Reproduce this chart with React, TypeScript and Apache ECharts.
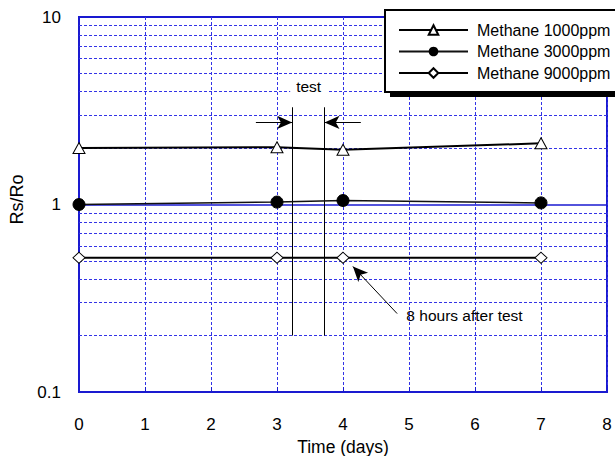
import React, { useEffect, useRef } from "react";
import * as echarts from "echarts";

const days = [0, 3, 4, 7];
const methane1000 = [2.0, 2.02, 1.96, 2.12];
const methane3000 = [1.0, 1.03, 1.05, 1.02];
const methane9000 = [0.52, 0.52, 0.52, 0.52];
const seriesNames = ["Methane 1000ppm", "Methane 3000ppm", "Methane 9000ppm"];
const yMinorGrid = [0.2, 0.3, 0.4, 0.5, 0.6, 0.7, 0.8, 0.9, 2, 3, 4, 5, 6, 7, 8, 9];
// test window annotation (days, Rs/Ro)
const testLines = [3.23, 3.72];
const testLineTop = 3.3;
const testLineBottom = 0.2;
const arrowY = 2.74;
const leftArrowFrom = 2.68;
const rightArrowFrom = 4.27;
const testLabelPos = [3.48, 4.27];
const afterArrowFrom = [4.82, 0.262];
const afterArrowTo = [4.15, 0.467];
const afterLabelPos = [4.96, 0.256];

const BLUE = "#1a1ad0";
const DOT_BLUE = "#3333e6";
const FONT = "Liberation Sans, Arial, sans-serif";

export default function App() {
  const ref = useRef<HTMLDivElement>(null);
  useEffect(() => {
    if (!ref.current) return;
    const chart = echarts.init(ref.current, undefined, { renderer: "svg" });
    const arrowSym = { symbol: "arrow", symbolSize: [10, 15] };
    chart.setOption({
      animation: false,
      backgroundColor: "#fff",
      textStyle: { fontFamily: FONT },
      grid: {
        left: 79,
        right: 8,
        top: 17,
        bottom: 64,
        containLabel: false,
        outerBoundsMode: "none",
        show: true,
        borderColor: BLUE,
        borderWidth: 2,
      },
      xAxis: {
        type: "value",
        min: 0,
        max: 8,
        interval: 1,
        name: "Time (days)",
        nameLocation: "middle",
        nameGap: 46,
        nameTextStyle: { fontSize: 17.5, color: "#000", fontFamily: FONT },
        axisLine: { lineStyle: { color: BLUE, width: 2 } },
        axisTick: { show: true, inside: true, length: 5, lineStyle: { color: BLUE } },
        axisLabel: { margin: 24, fontSize: 17, color: "#000", fontFamily: FONT },
        splitLine: { show: true, lineStyle: { color: DOT_BLUE, type: [3, 2], width: 1 } },
      },
      yAxis: {
        type: "log",
        logBase: 10,
        min: 0.1,
        max: 10,
        name: "Rs/Ro",
        nameLocation: "middle",
        nameGap: 50,
        nameTextStyle: { fontSize: 18, color: "#000", fontFamily: FONT, padding: [0, 0, 0, 10] },
        axisLine: { show: true, lineStyle: { color: BLUE, width: 2 } },
        axisTick: { show: false },
        axisLabel: {
          margin: 18,
          fontSize: 17,
          color: "#000",
          fontFamily: FONT,
          formatter: (v: number) => (v < 1 ? String(Number(v.toFixed(1))) : String(Math.round(v))),
        },
        splitLine: { show: true, lineStyle: { color: BLUE, width: 1.5, type: "solid" } },
      },
      legend: {
        data: seriesNames,
        orient: "vertical",
        left: 398,
        top: 22,
        padding: 0,
        itemWidth: 69,
        itemHeight: 12,
        itemGap: 5.5,
        textStyle: { fontSize: 16, color: "#000", fontFamily: FONT, lineHeight: 16, padding: [0, 0, 0, 4] },
        z: 8,
      },
      graphic: [
        { type: "rect", z: 6, shape: { x: 390, y: 15, width: 300, height: 82 }, style: { fill: "#000" } },
        {
          type: "rect",
          z: 7,
          shape: { x: 385, y: 10, width: 300, height: 82 },
          style: { fill: "#fff" },
        },
        {
          type: "polyline",
          z: 7,
          shape: { points: [[700, 10], [385, 10], [385, 92], [700, 92]] },
          style: { stroke: "#000", lineWidth: 2, fill: null },
        },
      ],
      series: [
        {
          name: "grid-minor",
          type: "line",
          data: [],
          z: 1,
          silent: true,
          markLine: {
            z: 1,
            silent: true,
            symbol: ["none", "none"],
            label: { show: false },
            lineStyle: { color: DOT_BLUE, type: [3, 2], width: 1 },
            data: yMinorGrid.map((v) => ({ yAxis: v })),
          },
        },
        {
          name: seriesNames[0],
          type: "line",
          z: 3,
          data: days.map((d, i) => [d, methane1000[i]]),
          symbol: "triangle",
          symbolSize: [12, 11],
          showAllSymbol: true,
          lineStyle: { color: "#000", width: 2 },
          itemStyle: { color: "#fff", borderColor: "#000", borderWidth: 1 },
          markLine: {
            z: 3,
            silent: true,
            symbol: ["none", "none"],
            label: { show: false },
            lineStyle: { color: "#000", width: 1, type: "solid" },
            data: [
              ...testLines.map((x) => [
                { coord: [x, testLineTop] },
                { coord: [x, testLineBottom] },
              ]),
              [{ coord: [leftArrowFrom, arrowY] }, { coord: [testLines[0], arrowY], ...arrowSym }],
              [{ coord: [rightArrowFrom, arrowY] }, { coord: [testLines[1], arrowY], ...arrowSym }],
              [{ coord: afterArrowFrom }, { coord: afterArrowTo, ...arrowSym }],
            ],
          },
        },
        {
          name: seriesNames[1],
          type: "line",
          z: 3,
          data: days.map((d, i) => [d, methane3000[i]]),
          symbol: "circle",
          symbolSize: 12,
          lineStyle: { color: "#111", width: 1.5 },
          itemStyle: { color: "#000", borderColor: "#000" },
          markPoint: {
            z: 3,
            silent: true,
            symbol: "circle",
            symbolSize: 0,
            data: [
              {
                coord: testLabelPos,
                label: {
                  show: true,
                  formatter: "test",
                  position: "inside",
                  color: "#000",
                  fontSize: 15.5,
                  fontFamily: FONT,
                  backgroundColor: "#fff",
                  padding: [2, 6],
                },
              },
              {
                coord: afterLabelPos,
                label: {
                  show: true,
                  formatter: "8 hours after test",
                  position: "right",
                  distance: 0,
                  color: "#000",
                  fontSize: 15.5,
                  fontFamily: FONT,
                },
              },
            ],
          },
        },
        {
          name: seriesNames[2],
          type: "line",
          z: 3,
          data: days.map((d, i) => [d, methane9000[i]]),
          symbol: "diamond",
          symbolSize: [12, 11],
          lineStyle: { color: "#000", width: 2 },
          itemStyle: { color: "#fff", borderColor: "#000", borderWidth: 1 },
        },
      ],
    });
    return () => chart.dispose();
  }, []);
  return <div ref={ref} style={{ width: 615, height: 456, position: "absolute", left: 0, top: 0 }} />;
}
